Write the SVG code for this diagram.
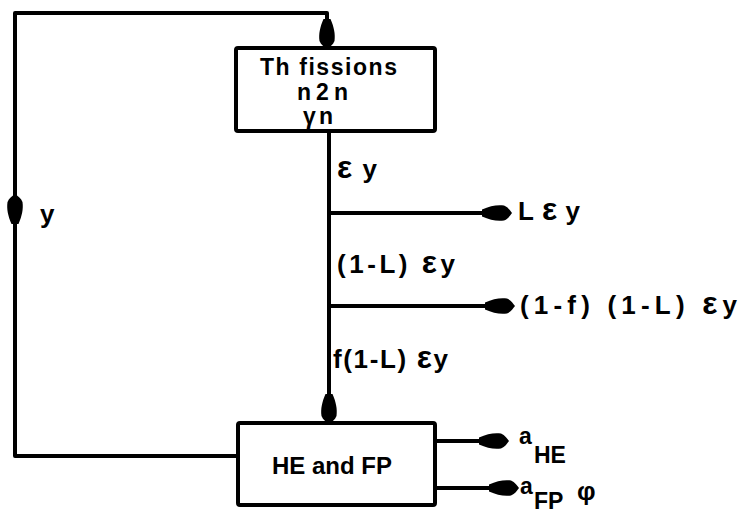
<svg xmlns="http://www.w3.org/2000/svg" width="748" height="515" viewBox="0 0 748 515">
<style>
.ln{fill:none;stroke:#000;stroke-width:4;stroke-linejoin:round}
.bx{fill:#fff;stroke:#000;stroke-width:4}
text{font-family:"Liberation Sans","DejaVu Sans",sans-serif;font-weight:bold;font-size:26px;fill:#000}
.tb{font-size:23px}
.he{font-size:24px}
.a{font-size:23px}
.sub{font-size:23px}
.ep{font-size:32px}
</style>
<defs>
<marker id="ah" markerUnits="userSpaceOnUse" markerWidth="34" markerHeight="20" viewBox="0 -10 34 20" refX="28" refY="0" orient="auto" overflow="visible">
<path d="M0,-3.5 C8,-7 15,-8.5 22,-7.5 C26,-6 28,-2.5 30,0 C28,2.5 26,6 22,7.5 C15,8.5 8,7 0,3.5 Z" fill="#000"/>
</marker>
</defs>
<rect width="748" height="515" fill="#fff"/>
<g id="connectors">
<path class="ln" d="M238,456 H15 V196" marker-end="url(#ah)"/>
<path class="ln" d="M15,200 V13 H327 V47" marker-end="url(#ah)"/>
<path class="ln" d="M329,131 V422" marker-end="url(#ah)"/>
<path class="ln" d="M329,213 H510" marker-end="url(#ah)"/>
<path class="ln" d="M329,306 H513" marker-end="url(#ah)"/>
<path class="ln" d="M435,441 H507" marker-end="url(#ah)"/>
<path class="ln" d="M435,488 H517" marker-end="url(#ah)"/>
</g>
<g id="th-fissions">
<rect class="bx" x="236" y="48" width="199" height="83" rx="2"/>
<text class="tb" x="260" y="75" textLength="137">Th fissions</text>
<text class="tb" x="297" y="100" textLength="51">n2n</text>
<text class="tb" x="303" y="124" textLength="30">γn</text>
</g>
<g id="he-fp">
<rect class="bx" x="238" y="423" width="197" height="82" rx="2"/>
<text class="he" x="272" y="474" textLength="120">HE and FP</text>
</g>
<g id="labels">
<text x="337" y="178" textLength="40"><tspan class="ep">ε</tspan>y</text>
<text x="40" y="223">y</text>
<text x="518" y="220" textLength="62">L<tspan class="ep">ε</tspan>y</text>
<text x="337" y="273" textLength="118">(1-L) <tspan class="ep">ε</tspan>y</text>
<text x="520" y="314" textLength="217">(1-f) (1-L) <tspan class="ep">ε</tspan>y</text>
<text x="333" y="368" textLength="115">f(1-L) <tspan class="ep">ε</tspan>y</text>
<text class="a" x="519" y="444">a</text>
<text class="sub" x="534" y="463">HE</text>
<text class="a" x="520" y="494">a</text>
<text class="sub" x="534" y="509">FP</text>
<text x="577" y="500">φ</text>
</g>
</svg>
